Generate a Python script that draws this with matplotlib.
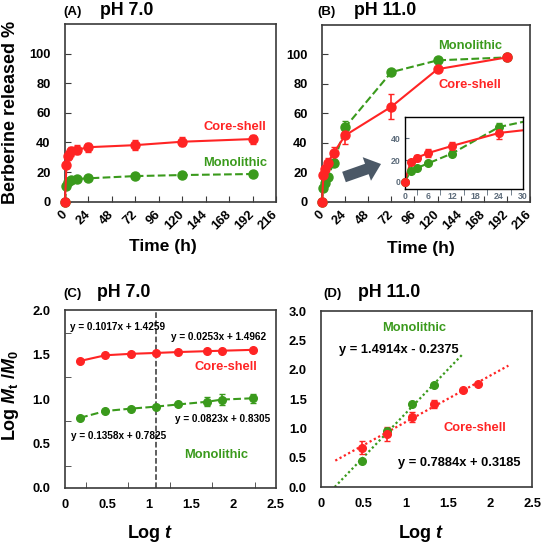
import matplotlib
matplotlib.use('Agg')
import numpy as np
import matplotlib.pyplot as plt
from matplotlib.patches import FancyArrow
from matplotlib.transforms import IdentityTransform

"""
    Berberine release: pH 7.0 / pH 11.0 profiles and log-log kinetics
"""

# ---- data ----
time_h = [0, 1.5, 3, 6, 12, 24, 72, 120, 192]
ph7_core = [0, 25, 31, 34, 35, 36.8, 38.2, 40.5, 42.3]
ph7_core_err = [0, 2, 3, 3, 3, 3, 3.5, 3, 3]
ph7_mono = [0, 10.5, 13, 14.5, 15.3, 15.8, 17.3, 18, 18.7]
ph7_mono_err = [0, 1, 1, 1, 1, 1, 1, 1, 1]

ph11_core = [0, 18, 22, 26.5, 33, 45, 64.5, 90, 98]
ph11_core_err = [0, 2, 3, 3.5, 4, 5.5, 8.5, 1, 1]
ph11_mono = [0, 9.5, 12.5, 17, 26, 50.5, 88, 96, 98]
ph11_mono_err = [0, 1, 1, 1, 2, 4, 1, 1, 1]

logt_c = [0.18, 0.48, 0.78, 1.08, 1.34, 1.68, 1.86, 2.23]
c_core = [1.43, 1.494, 1.51, 1.52, 1.53, 1.54, 1.545, 1.555]
c_core_err = [0.01, 0.01, 0.01, 0.01, 0.01, 0.01, 0.01, 0.02]
c_mono = [0.79, 0.867, 0.893, 0.916, 0.94, 0.97, 0.995, 1.01]
c_mono_err = [0.01, 0.01, 0.01, 0.01, 0.02, 0.05, 0.06, 0.05]

logt_d_mono = [0.48, 0.78, 1.08, 1.34]
d_mono = [0.44, 0.95, 1.42, 1.74]
d_mono_err = [0.01, 0.06, 0.02, 0.02]
logt_d_core = [0.48, 0.78, 1.08, 1.34, 1.68, 1.86]
d_core = [0.67, 0.90, 1.195, 1.41, 1.65, 1.76]
d_core_err = [0.11, 0.12, 0.09, 0.07, 0.02, 0.02]

# trend lines shown in panel D (slope, intercept, x range)
fit_mono = (1.4914, -0.2375, 0.159, 1.685)
fit_core = (0.7884, 0.3185, 0.166, 2.22)

RED = '#ff2424'
GREEN = '#3a9a1c'
FRAME = '#3a3a3a'
W, H = 543, 544

plt.rcParams['font.family'] = ['Liberation Sans', 'DejaVu Sans']
plt.rcParams['font.weight'] = 'bold'
plt.rcParams['mathtext.fontset'] = 'custom'
plt.rcParams['mathtext.rm'] = 'Liberation Sans:bold'
plt.rcParams['mathtext.it'] = 'Liberation Sans:italic:bold'
plt.rcParams['mathtext.bf'] = 'Liberation Sans:bold'

fig = plt.figure(figsize=(W / 100, H / 100), dpi=100)


def px_axes(x0, y0, x1, y1):
    # axes box given in pixel coordinates (top-left origin)
    return fig.add_axes([x0 / W, 1 - y1 / H, (x1 - x0) / W, (y1 - y0) / H])


def style_frame(ax):
    for s in ax.spines.values():
        s.set_color(FRAME)
        s.set_linewidth(1.2)
    ax.tick_params(which='both', direction='in', top=False, right=False,
                   color=FRAME, labelsize=9.3)


def panel_title(x_tag, x_ph, y_base, tag, ph):
    fig.text(x_tag / W, 1 - y_base / H, tag, fontsize=9.5, fontweight='bold',
             va='baseline')
    fig.text(x_ph / W, 1 - y_base / H, ph, fontsize=12.8, fontweight='bold',
             va='baseline')


def release_curve(ax, y, err, color, ls, ms=6.5):
    ax.errorbar(time_h, y, yerr=err, color=color, ls=ls, lw=1.5, marker='o',
                ms=ms, capsize=2.5, elinewidth=1.2, clip_on=False, zorder=3)


def time_axis(ax):
    ax.set_xlim(0, 216)
    ax.set_ylim(0, 120)
    ax.set_xticks(range(0, 217, 24))
    ax.set_yticks(range(0, 101, 20))
    ax.tick_params(axis='y', pad=10.5, length=4)
    ax.tick_params(axis='x', pad=8, length=4)
    plt.setp(ax.get_xticklabels(), rotation=45, ha='right', va='center',
             rotation_mode='anchor')
    ax.set_xlabel('Time (h)', fontsize=12.5, fontweight='bold')


# ---- (A) pH 7.0 ----
ax_a = px_axes(65, 24, 276, 201.7)
style_frame(ax_a)
release_curve(ax_a, ph7_mono, ph7_mono_err, GREEN, '--')
release_curve(ax_a, ph7_core, ph7_core_err, RED, '-')
time_axis(ax_a)
ax_a.set_ylabel('Berberine released %', fontsize=13, fontweight='bold')
ax_a.yaxis.set_label_coords(-0.26, 0.5)
ax_a.yaxis.label.set_va('center')
ax_a.xaxis.set_label_coords(0.464, -0.2525)
ax_a.xaxis.label.set_va('center')
ax_a.text(174, 50.6, 'Core-shell', color=RED, fontsize=9.3, ha='center', va='center')
ax_a.text(174, 25.9, 'Monolithic', color=GREEN, fontsize=9.3, ha='center', va='center')
panel_title(63, 100, 15, '(A)', 'pH 7.0')

# ---- (B) pH 11.0 ----
ax_b = px_axes(322, 25, 530, 201.7)
style_frame(ax_b)
release_curve(ax_b, ph11_mono, ph11_mono_err, GREEN, '--')
release_curve(ax_b, ph11_core, ph11_core_err, RED, '-')
time_axis(ax_b)
ax_b.xaxis.set_label_coords(0.476, -0.263)
ax_b.xaxis.label.set_va('center')
ax_b.text(154, 105.7, 'Monolithic', color=GREEN, fontsize=9.3, ha='center', va='center')
ax_b.text(154, 79.4, 'Core-shell', color=RED, fontsize=9.3, ha='center', va='center')
panel_title(317, 353.7, 15, '(B)', 'pH 11.0')

# inset: first 30 h (lines clipped to the box, markers kept whole)
ax_in = px_axes(404.7, 116.7, 522.7, 189.3)
for s in ax_in.spines.values():
    s.set_color('black')
    s.set_linewidth(1.0)
keep = [i for i, t in enumerate(time_h) if t <= 30]
for y, err, color, ls in [(ph11_mono, ph11_mono_err, GREEN, '--'),
                          (ph11_core, ph11_core_err, RED, '-')]:
    ax_in.plot(time_h, y, color=color, ls=ls, lw=1.5, zorder=2)
    ax_in.errorbar([time_h[i] for i in keep], [y[i] for i in keep],
                   yerr=[err[i] for i in keep], color=color, ls='none',
                   marker='o', ms=5.5, capsize=2.5, elinewidth=1.2,
                   clip_on=False, zorder=3)
ax_in.set_xlim(0, 30)
ax_in.set_ylim(-7, 60)
ax_in.set_xticks(range(0, 31, 6))
ax_in.set_xticks(range(3, 30, 6), minor=True)
ax_in.set_yticks([0, 20, 40])
ax_in.tick_params(which='both', labelsize=6.3, labelcolor='#5c6b7a', color='#5c6b7a')
ax_in.tick_params(axis='x', which='major', length=0, pad=2)
ax_in.tick_params(axis='x', which='minor', direction='out', length=4)
ax_in.tick_params(axis='y', direction='in', length=3, pad=3)
for t in ax_in.get_xticklabels() + ax_in.get_yticklabels():
    t.set_fontweight('bold')

arrow = FancyArrow(344, 367, 37, 13, width=11, head_width=25, head_length=15,
                   length_includes_head=True, color='#4b5866', lw=0,
                   transform=IdentityTransform())
fig.add_artist(arrow)

# ---- (C) pH 7.0 log-log ----
ax_c = px_axes(65, 310.3, 275.7, 488)
style_frame(ax_c)
ax_c.errorbar(logt_c, c_mono, yerr=c_mono_err, color=GREEN, ls='--', lw=1.5,
              marker='o', ms=5.5, capsize=2.5, elinewidth=1.2, zorder=3)
ax_c.errorbar(logt_c, c_core, yerr=c_core_err, color=RED, ls='-', lw=1.5,
              marker='o', ms=5.5, capsize=2.5, elinewidth=1.2, zorder=3)
ax_c.axvline(1.083, color='#333333', ls='--', lw=1.1, zorder=2)
ax_c.set_xlim(0, 2.5)
ax_c.set_ylim(0, 2.0)
ax_c.set_xticks([0, 0.5, 1, 1.5, 2, 2.5])
ax_c.set_xticklabels(['0', '0.5', '1', '1.5', '2', '2.5'])
ax_c.set_yticks(np.arange(0, 2.01, 0.5))
ax_c.set_yticklabels(['0.0', '0.5', '1.0', '1.5', '2.0'])
ax_c.set_xticks(np.arange(0.25, 2.5, 0.5), minor=True)
ax_c.set_yticks(np.arange(0.25, 2.0, 0.5), minor=True)
ax_c.tick_params(which='major', length=0)
ax_c.tick_params(which='minor', length=4)
ax_c.tick_params(axis='y', pad=10.5)
ax_c.tick_params(axis='x', pad=8)
ax_c.set_xlabel(r'Log $t$', fontsize=13, fontweight='bold')
ax_c.xaxis.set_label_coords(0.406, -0.257)
ax_c.xaxis.label.set_va('center')
ax_c.set_ylabel(r'Log $M_{\rm t}$ /$M_0$', fontsize=13, fontweight='bold')
ax_c.yaxis.set_label_coords(-0.26, 0.523)
ax_c.yaxis.label.set_va('center')
eq_kw = dict(fontsize=7.2, fontweight='bold', va='center', ha='left')
ax_c.text(0.06, 1.81, 'y = 0.1017x + 1.4259', **eq_kw)
ax_c.text(1.26, 1.70, 'y = 0.0253x + 1.4962', **eq_kw)
ax_c.text(1.307, 0.78, 'y = 0.0823x + 0.8305', **eq_kw)
ax_c.text(0.067, 0.585, 'y = 0.1358x + 0.7825', **eq_kw)
ax_c.text(1.91, 1.36, 'Core-shell', color=RED, fontsize=9.3, ha='center', va='center')
ax_c.text(1.79, 0.375, 'Monolithic', color=GREEN, fontsize=9.3, ha='center', va='center')
panel_title(63.3, 96.7, 297, '(C)', 'pH 7.0')

# ---- (D) pH 11.0 log-log ----
ax_d = px_axes(321.3, 311, 532, 487)
style_frame(ax_d)
for (k, b, x0, x1), color in [(fit_mono, GREEN), (fit_core, RED)]:
    xs = np.array([x0, x1])
    ax_d.plot(xs, k * xs + b, color=color, ls=(0, (1, 1.2)), lw=1.6, zorder=2)
ax_d.errorbar(logt_d_mono, d_mono, yerr=d_mono_err, color=GREEN, ls='none',
              marker='o', ms=5.5, capsize=2.5, elinewidth=1.2, zorder=3)
ax_d.errorbar(logt_d_core, d_core, yerr=d_core_err, color=RED, ls='none',
              marker='o', ms=5.5, capsize=2.5, elinewidth=1.2, zorder=3)
ax_d.set_xlim(0, 2.5)
ax_d.set_ylim(0, 3.0)
ax_d.set_xticks([0, 0.5, 1, 1.5, 2, 2.5])
ax_d.set_xticklabels(['0', '0.5', '1', '1.5', '2', '2.5'])
ax_d.set_yticks(np.arange(0, 3.01, 0.5))
ax_d.set_yticklabels(['%.1f' % v for v in np.arange(0, 3.01, 0.5)])
ax_d.tick_params(which='major', length=0)
ax_d.tick_params(axis='y', pad=10.5)
ax_d.tick_params(axis='x', pad=8)
ax_d.set_xlabel(r'Log $t$', fontsize=13, fontweight='bold')
ax_d.xaxis.set_label_coords(0.473, -0.266)
ax_d.xaxis.label.set_va('center')
ax_d.text(1.10, 2.715, 'Monolithic', color=GREEN, fontsize=9.3, ha='center', va='center')
ax_d.text(0.206, 2.33, 'y = 1.4914x - 0.2375', fontsize=9.3, ha='left', va='center')
ax_d.text(1.82, 1.0, 'Core-shell', color=RED, fontsize=9.3, ha='center', va='center')
ax_d.text(0.908, 0.41, 'y = 0.7884x + 0.3185', fontsize=9.3, ha='left', va='center')
panel_title(323.7, 358, 297, '(D)', 'pH 11.0')

fig.savefig('out.png', dpi=100)
